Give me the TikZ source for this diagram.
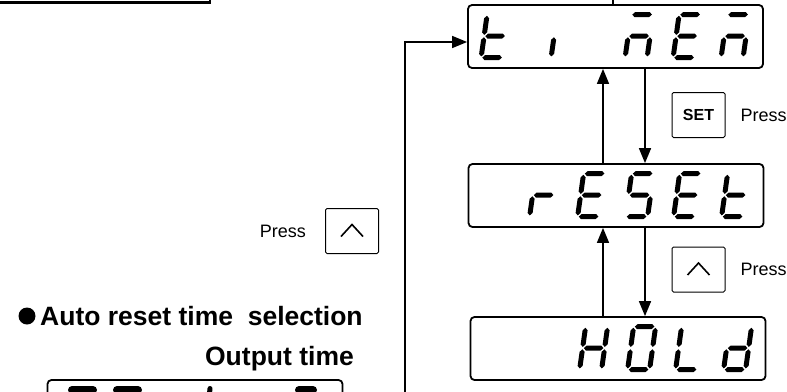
\documentclass[tikz,border=0pt]{standalone}
\usepackage{fontspec}
\setmainfont{Liberation Sans}
\usetikzlibrary{arrows.meta,positioning,calc}

% one pointed segment: from, to, at
\newcommand\hseg[3]{(#1,#3) -- ({#1+2.5},{#3+2.5}) -- ({#2-2.5},{#3+2.5}) -- (#2,#3) -- ({#2-2.5},{#3-2.5}) -- ({#1+2.5},{#3-2.5}) -- cycle}
\newcommand\vseg[3]{(#1,#2) -- ({#1+2.5},{#2+2.5}) -- ({#1+2.5},{#3-2.5}) -- (#1,#3) -- ({#1-2.5},{#3-2.5}) -- ({#1-2.5},{#2+2.5}) -- cycle}
% seven segment pieces (local units, y up)
\newcommand\sega{\hseg{1.2}{20.8}{43}}
\newcommand\segb{\vseg{22}{22.7}{41.8}}
\newcommand\segc{\vseg{22}{1.2}{20.3}}
\newcommand\segd{\hseg{1.2}{20.8}{0}}
\newcommand\sege{\vseg{0}{1.2}{20.3}}
\newcommand\segf{\vseg{0}{22.7}{41.8}}
\newcommand\segg{\hseg{1.2}{20.8}{21.5}}
% display, cell, segments
\newcommand\digit[3]{%
  \begin{scope}[shift={($(#1.north west)+({14+48*#2},53.5)$)}, x={(1pt,0pt)}, y={(0.14pt,1pt)}]
    \foreach \s in {#3} \fill \csname seg\s\endcsname;
  \end{scope}}

\begin{document}
\begin{tikzpicture}[x=1pt, y=-1pt,
    display/.style={draw, line width=1.8pt, rounded corners=4pt, minimum width=295pt, minimum height=63pt, inner sep=0pt},
    btn/.style={draw, line width=1pt, rounded corners=1.5pt, minimum width=53pt, minimum height=45pt, inner sep=0pt},
    arr/.style={line width=1.6pt, -{Triangle[length=15pt,width=12pt]}},
    caret/.style={line width=1.6pt},
    press/.style={inner sep=0pt, font=\fontsize{18}{20}\selectfont},
    headline/.style={inner sep=0pt, font=\fontsize{26.5}{30}\selectfont\bfseries}]

  \useasboundingbox (0,0) rectangle (787,391);
  \clip (0,0) rectangle (787,391);

  % displays
  \node[display] (timen) at (615.5,36.5) {};
  \node[display] (reset) at (616,195.5) {};
  \node[display] (hold) at (618,348.5) {};
  \node[display] (outtime) at (195,411.5) {};

  \digit{timen}{0}{d,e,f,g}
  \digit{timen}{1}{c}
  \digit{timen}{3}{a,c,e,g}
  \digit{timen}{4}{a,d,e,f,g}
  \digit{timen}{5}{a,c,e,g}

  \digit{reset}{1}{e,g}
  \digit{reset}{2}{a,d,e,f,g}
  \digit{reset}{3}{a,c,d,f,g}
  \digit{reset}{4}{a,d,e,f,g}
  \digit{reset}{5}{d,e,f,g}

  \digit{hold}{2}{b,c,e,f,g}
  \digit{hold}{3}{a,b,c,d,e,f}
  \digit{hold}{4}{d,e,f}
  \digit{hold}{5}{b,c,d,e,g}

  % tops of the lower display
  \foreach \a/\b in {72/93,117/138,299/313}
    \draw[line width=8pt, line cap=round] (\a,390) -- (\b,390);
  \draw[line width=5pt, line cap=round] (210,388.5) -- (209,398);

  % keys
  \node[btn] (setkey) at (698.5,115) {\fontsize{16}{18}\selectfont\bfseries SET};
  \node[btn] (upkey) at (698.5,269.5) {};
  \node[btn] (upkeyl) at (352,231) {};
  \foreach \k in {upkey,upkeyl}
    \draw[caret] ([shift={(-11,5.5)}]\k.center) -- ([shift={(0,-6.5)}]\k.center) -- ([shift={(11,5.5)}]\k.center);

  \node[press, right=15pt of setkey] {Press};
  \node[press, right=15pt of upkey] {Press};
  \node[press, left=19pt of upkeyl] {Press};

  % arrows between displays
  \coordinate (upx) at (603,0);
  \coordinate (dnx) at (645,0);
  \draw[arr] (reset.north -| upx) -- (timen.south -| upx);
  \draw[arr] (timen.south -| dnx) -- (reset.north -| dnx);
  \draw[arr] (hold.north -| upx) -- (reset.south -| upx);
  \draw[arr] (reset.south -| dnx) -- (hold.north -| dnx);

  % loop back to the top
  \coordinate (loop) at (405,400);
  \draw[arr] (loop) |- ([yshift=-5.5pt]timen.west);
  \draw[line width=1.6pt] ([xshift=-2.5pt]timen.north) -- ++(0,-10);
  \draw[line width=2.5pt] (-5,2.5) -- (210,2.5) -- (210,-5);

  % heading
  \fill (27,316) circle (8.5);
  \node[headline, anchor=base west] (auto) at (40,325) {Auto reset time\ \ selection};
  \node[headline, anchor=base east] (output) at (354,365) {Output time};
\end{tikzpicture}
\end{document}
